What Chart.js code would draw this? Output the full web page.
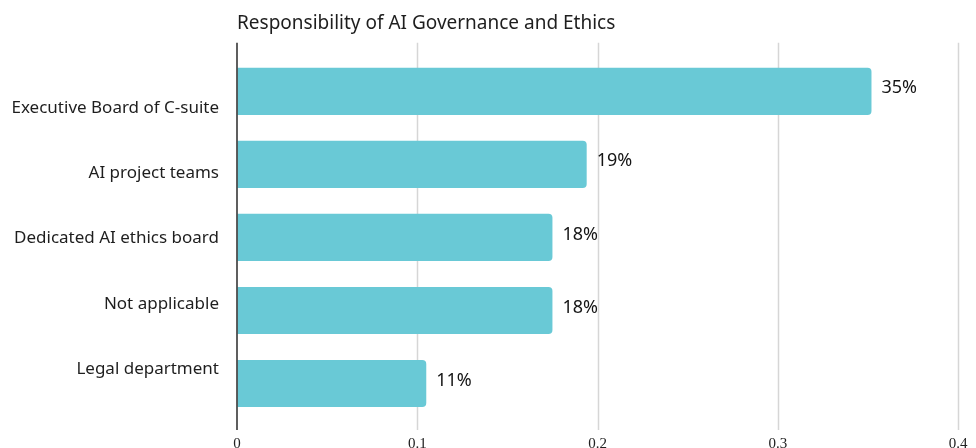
<!DOCTYPE html>
<html>
<head>
<meta charset="utf-8">
<script src="https://cdn.jsdelivr.net/npm/chart.js@4.4.1/dist/chart.umd.min.js"></script>
<style>
  html, body { margin: 0; padding: 0; background: #fff; overflow: hidden; }
  canvas { display: block; }
</style>
</head>
<body>
<canvas id="govChart" width="976" height="470"></canvas>
<script>
const categories = ['Executive Board of C-suite', 'AI project teams', 'Dedicated AI ethics board', 'Not applicable', 'Legal department'];
const shares = [0.352, 0.194, 0.175, 0.175, 0.105];
const xTicks = [0, 0.1, 0.2, 0.3, 0.4];

const barColor = '#69c9d6';
const sansFont = '"Noto Sans", "Open Sans", sans-serif';

// vertical grid lines + axis line, a bit taller than the plot area
const gridLines = {
  id: 'gridLines',
  beforeDatasetsDraw(chart) {
    const {ctx, chartArea, scales} = chart;
    ctx.save();
    ctx.strokeStyle = '#d6d6d6';
    ctx.lineWidth = 1.5;
    xTicks.slice(1).forEach(v => {
      const x = Math.round(scales.x.getPixelForValue(v)) + 0.5;
      ctx.beginPath();
      ctx.moveTo(x, chartArea.top - 12);
      ctx.lineTo(x, chartArea.bottom + 10);
      ctx.stroke();
    });
    ctx.restore();
  },
  afterDatasetsDraw(chart) {
    const {ctx, chartArea, scales} = chart;
    ctx.save();
    // axis line
    const x0 = scales.x.getPixelForValue(0);
    ctx.strokeStyle = '#4d4d4d';
    ctx.lineWidth = 1.8;
    ctx.beginPath();
    ctx.moveTo(x0, chartArea.top - 12);
    ctx.lineTo(x0, chartArea.bottom + 10);
    ctx.stroke();
    // value labels
    ctx.fillStyle = '#151515';
    ctx.font = '18px ' + sansFont;
    ctx.textAlign = 'left';
    ctx.textBaseline = 'middle';
    chart.getDatasetMeta(0).data.forEach((bar, i) => {
      ctx.fillText(Math.round(shares[i] * 100) + '%', bar.x + 10, bar.y - 3);
    });
    ctx.restore();
  }
};

const ctx = document.getElementById('govChart').getContext('2d');

new Chart(ctx, {
  type: 'bar',
  data: {
    labels: categories,
    datasets: [{
      data: shares,
      backgroundColor: barColor,
      borderRadius: 4,
      borderSkipped: 'start',
      categoryPercentage: 1,
      barPercentage: 0.645
    }]
  },
  options: {
    indexAxis: 'y',
    responsive: false,
    animation: false,
    layout: { padding: { left: 0, right: 0, top: 0, bottom: 2 } },
    plugins: {
      legend: { display: false },
      tooltip: { enabled: false },
      title: {
        display: true,
        text: 'Responsibility of AI Governance and Ethics',
        align: 'start',
        fullSize: false,
        color: '#1e1e1e',
        font: { family: sansFont, size: 19, weight: 'normal' },
        padding: { top: 12, bottom: 20 }
      }
    },
    scales: {
      x: {
        min: 0,
        max: 0.4,
        afterBuildTicks(scale) {
          scale.ticks = xTicks.map(v => ({ value: v }));
        },
        afterFit(scale) {
          scale.paddingLeft = 0;
          scale.paddingRight = 18;
        },
        grid: { display: false, drawTicks: false },
        border: { display: false },
        ticks: {
          padding: 15,
          color: '#222',
          font: { family: '"Liberation Serif", serif', size: 15 },
          callback: v => String(v)
        }
      },
      y: {
        display: false,
        grid: { display: false }
      },
      // label axis: the source's category names sit on a slightly tighter spacing than the bars
      yLabels: {
        type: 'linear',
        position: 'left',
        reverse: true,
        bounds: 'data',
        offset: false,
        min: -0.812,
        max: 4.782,
        weight: 1,
        afterBuildTicks(scale) {
          scale.ticks = categories.map((c, i) => ({ value: i }));
        },
        afterFit(scale) { scale.width = 237; },
        grid: { display: false, drawTicks: false },
        border: { display: false },
        ticks: {
          autoSkip: false,
          padding: 18,
          color: '#1e1e1e',
          font: { family: sansFont, size: 17 },
          callback: v => categories[v]
        }
      }
    }
  },
  plugins: [gridLines]
});
</script>
</body>
</html>
